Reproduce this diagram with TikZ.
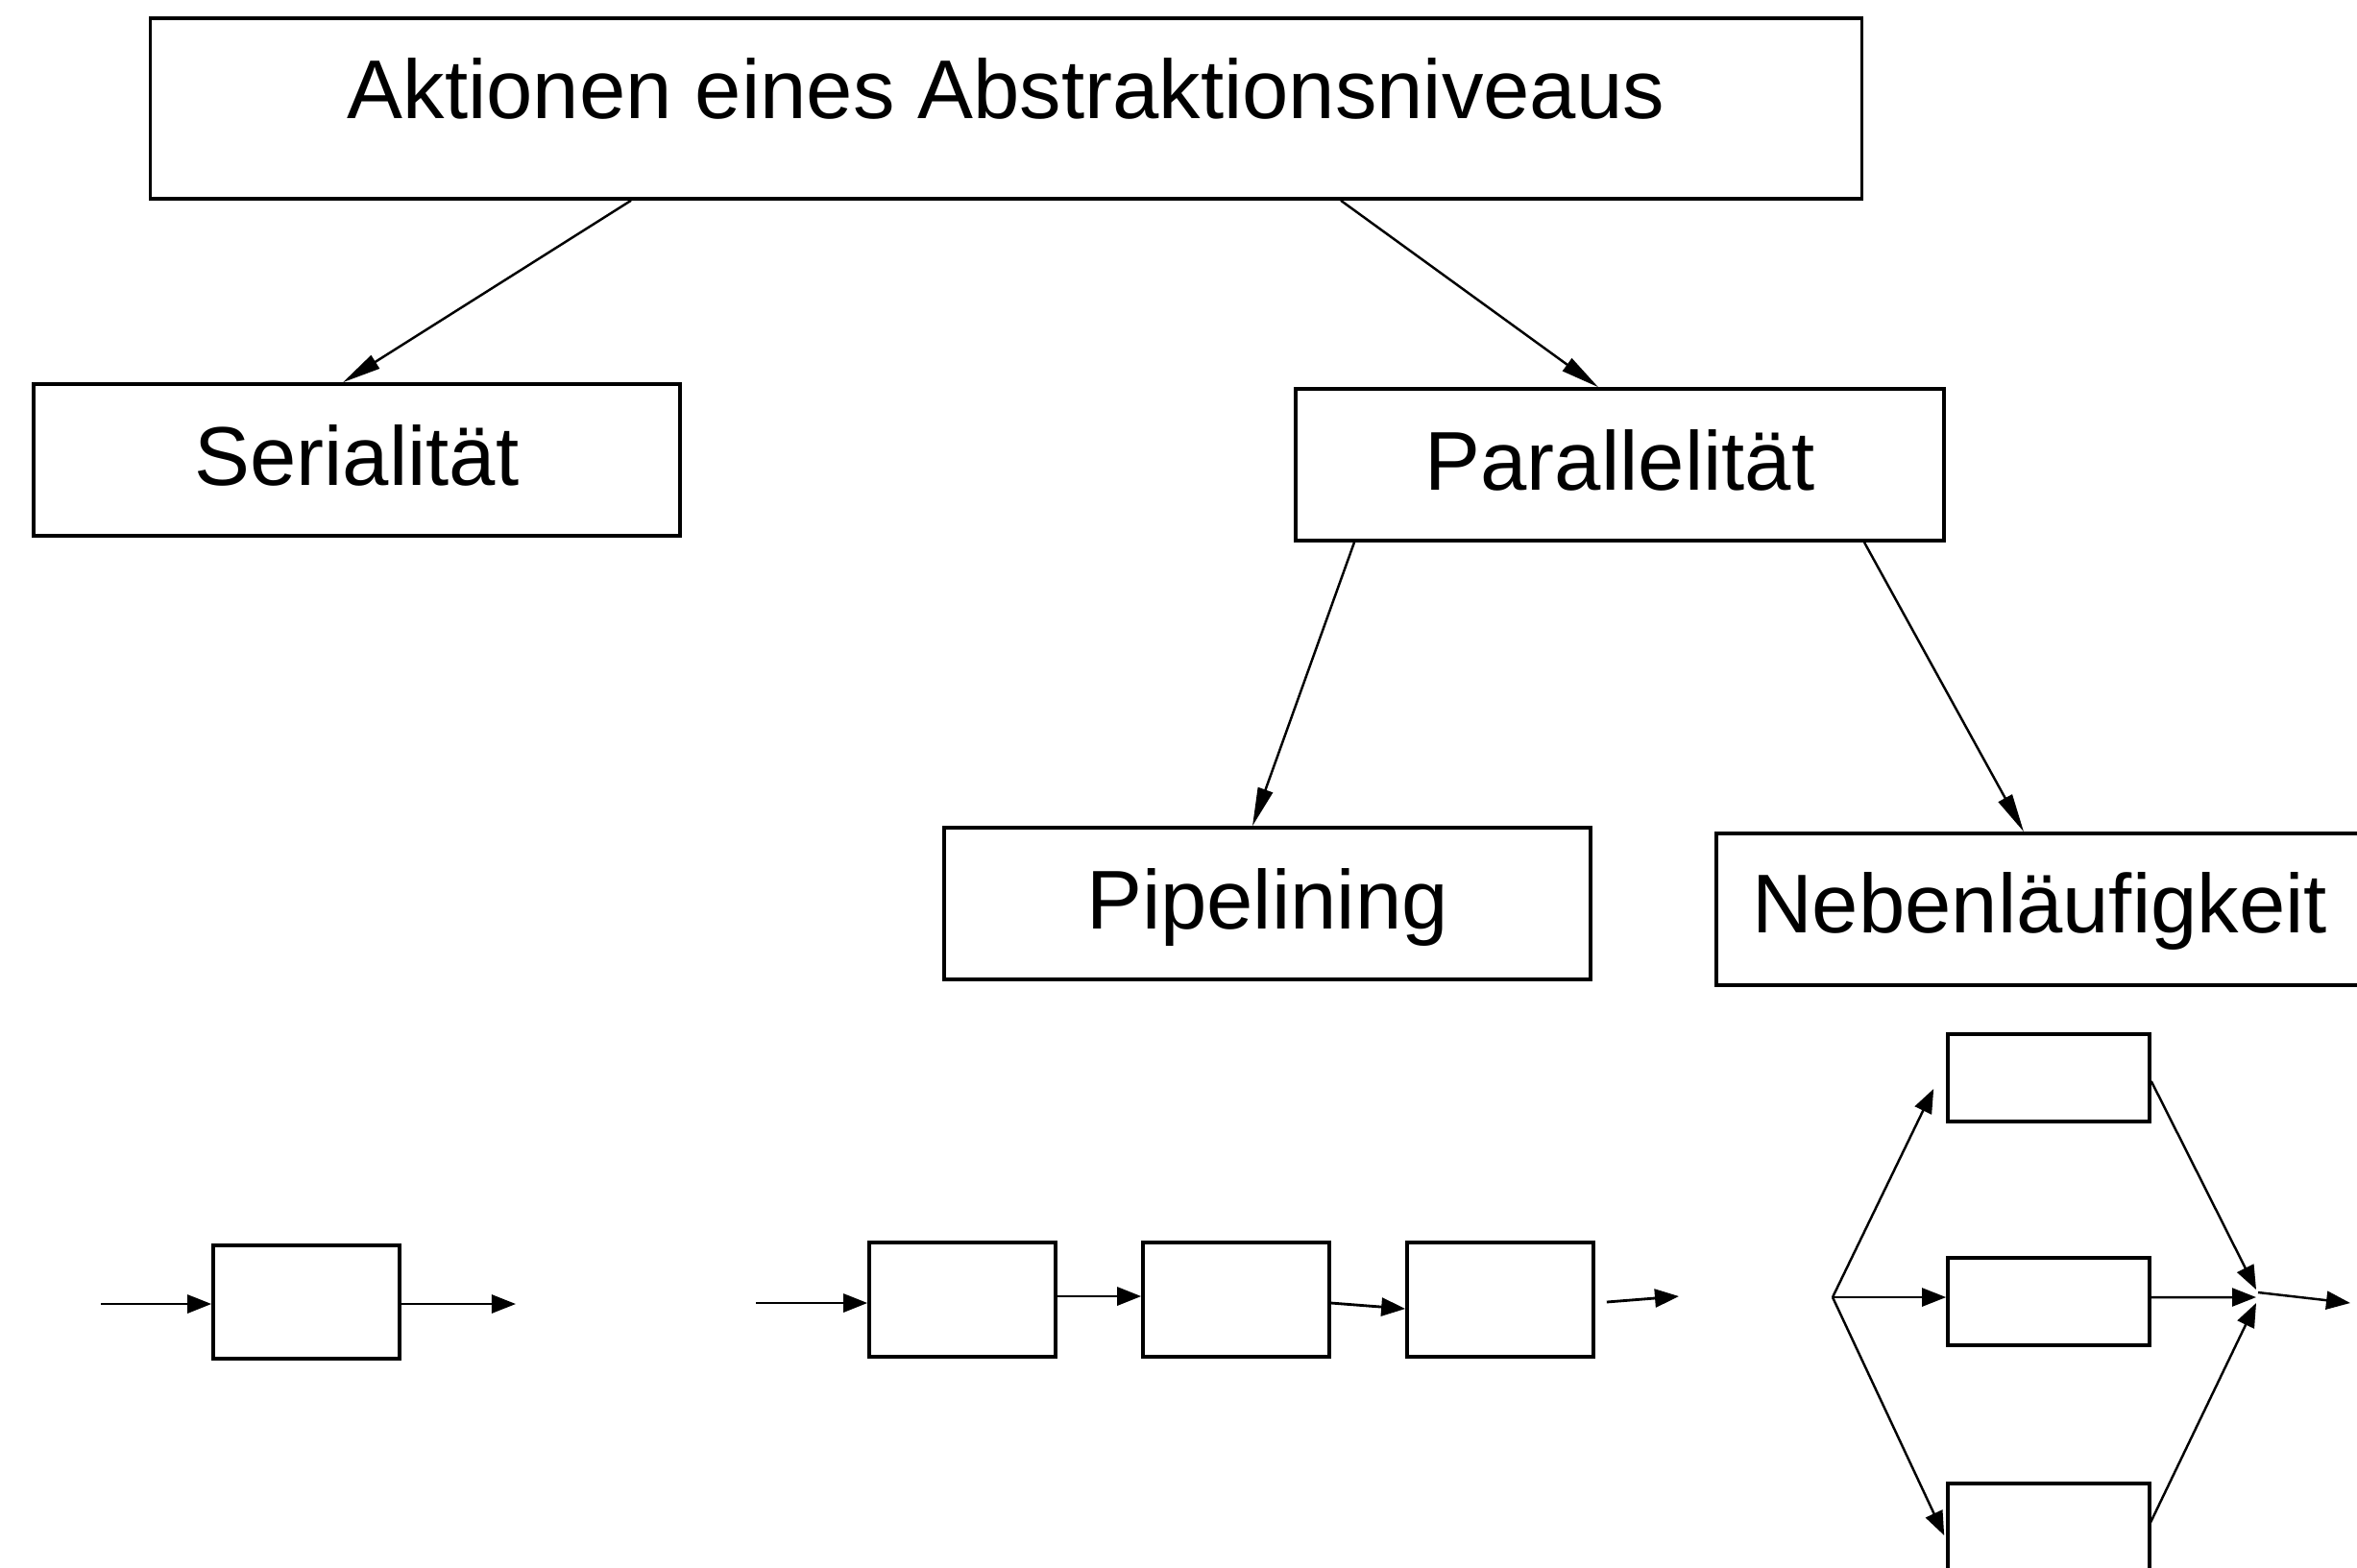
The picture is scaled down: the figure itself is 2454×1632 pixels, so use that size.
\documentclass[tikz,border=0pt]{standalone}
\usepackage{fontspec}
\setmainfont{Liberation Sans}
\usetikzlibrary{arrows.meta}

\tikzset{
  labelbox/.style={draw, line width=1pt, inner sep=0pt, minimum width=6.73cm,
    minimum height=1.6cm, text height=0.62cm, text depth=0.10cm,
    font=\fontsize{24.7pt}{29pt}\selectfont},
  stagebox/.style={draw, line width=1pt, inner sep=0pt},
  treearrow/.style={line width=0.7pt, -{Triangle[length=4mm, width=1.6mm]}},
  flowarrow/.style={line width=0.8pt, -{Triangle[length=2.5mm, width=1.9mm]}}
}

\begin{document}
\begin{tikzpicture}[x=0.01cm, y=-0.01cm]
  \useasboundingbox (0,0) rectangle (2454,1632);

  % classification tree
  \node[labelbox, minimum width=17.81cm, minimum height=1.88cm, text depth=0.42cm]
    (top) at (1047.5,113) {Aktionen eines Abstraktionsniveaus};
  \node[labelbox, minimum height=1.58cm] (ser) at (371.5,479) {Serialität};
  \node[labelbox, minimum width=6.75cm, minimum height=1.58cm] (par) at (1686.5,484) {Parallelität};
  \node[labelbox, minimum height=1.58cm] (pipe) at (1319.5,941) {Pipelining};
  \node[labelbox, minimum height=1.58cm, text depth=0.13cm] (neb) at (2123.5,947) {Nebenläufigkeit};

  \draw[treearrow] (657,0 |- top.south) -- (357,0 |- ser.north);
  \draw[treearrow] (1396,0 |- top.south) -- (1664,0 |- par.north);
  \draw[treearrow] (1410,0 |- par.south) -- (1304,0 |- pipe.north);
  \draw[treearrow] (1941,0 |- par.south) -- (2107,0 |- neb.north);

  % serial execution
  \node[stagebox, minimum width=1.94cm, minimum height=1.18cm] (s1) at (319,1356) {};
  \coordinate (sin) at (105,1358);
  \coordinate (sout) at (537,1358);
  \draw[flowarrow] (sin) -- (sin -| s1.west);
  \draw[flowarrow] (s1.east |- sout) -- (sout);

  % pipeline
  \node[stagebox, minimum width=1.94cm, minimum height=1.19cm] (p1) at (1002,1353.5) {};
  \node[stagebox, minimum width=1.94cm, minimum height=1.19cm] (p2) at (1287,1353.5) {};
  \node[stagebox, minimum width=1.94cm, minimum height=1.19cm] (p3) at (1562,1353.5) {};
  \coordinate (pin) at (787,1357);
  \coordinate (pout) at (1748,1350);
  \draw[flowarrow] (pin) -- (pin -| p1.west);
  \draw[flowarrow] ([yshift=0.035cm]p1.east) -- ([yshift=0.035cm]p2.west);
  \draw[flowarrow] ([yshift=-0.035cm]p2.east) -- ([yshift=-0.095cm]p3.west);
  \draw[flowarrow] ([shift={(12,2.5)}]p3.east) -- (pout);

  % concurrent branches
  \node[stagebox, minimum width=2.10cm, minimum height=0.91cm] (n1) at (2133,1122.5) {};
  \node[stagebox, minimum width=2.10cm, minimum height=0.91cm] (n2) at (2133,1355.5) {};
  \node[stagebox, minimum width=2.10cm, minimum height=0.91cm] (n3) at (2133,1590.5) {};
  \coordinate (split) at (1908,1351);
  \coordinate (join) at (2349,1349);
  \coordinate (nout) at (2447,1357);
  \draw[flowarrow, line width=0.7pt] (split) -- ([shift={(-13,11.5)}]n1.west);
  \draw[flowarrow, line width=0.7pt] (split) -- (split -| n2.west);
  \draw[flowarrow, line width=0.7pt] (split) -- ([shift={(-2,8.5)}]n3.west);
  \draw[flowarrow, line width=0.7pt] ([yshift=-0.035cm]n1.east) -- ([yshift=0.06cm]join);
  \draw[flowarrow, line width=0.7pt] (n2.east |- split) -- ([yshift=-0.02cm]join);
  \draw[flowarrow, line width=0.7pt] ([shift={(-1,-4.5)}]n3.east) -- ([yshift=-0.08cm]join);
  \draw[flowarrow, line width=0.7pt] ([shift={(2,-3)}]join) -- (nout);
\end{tikzpicture}
\end{document}
